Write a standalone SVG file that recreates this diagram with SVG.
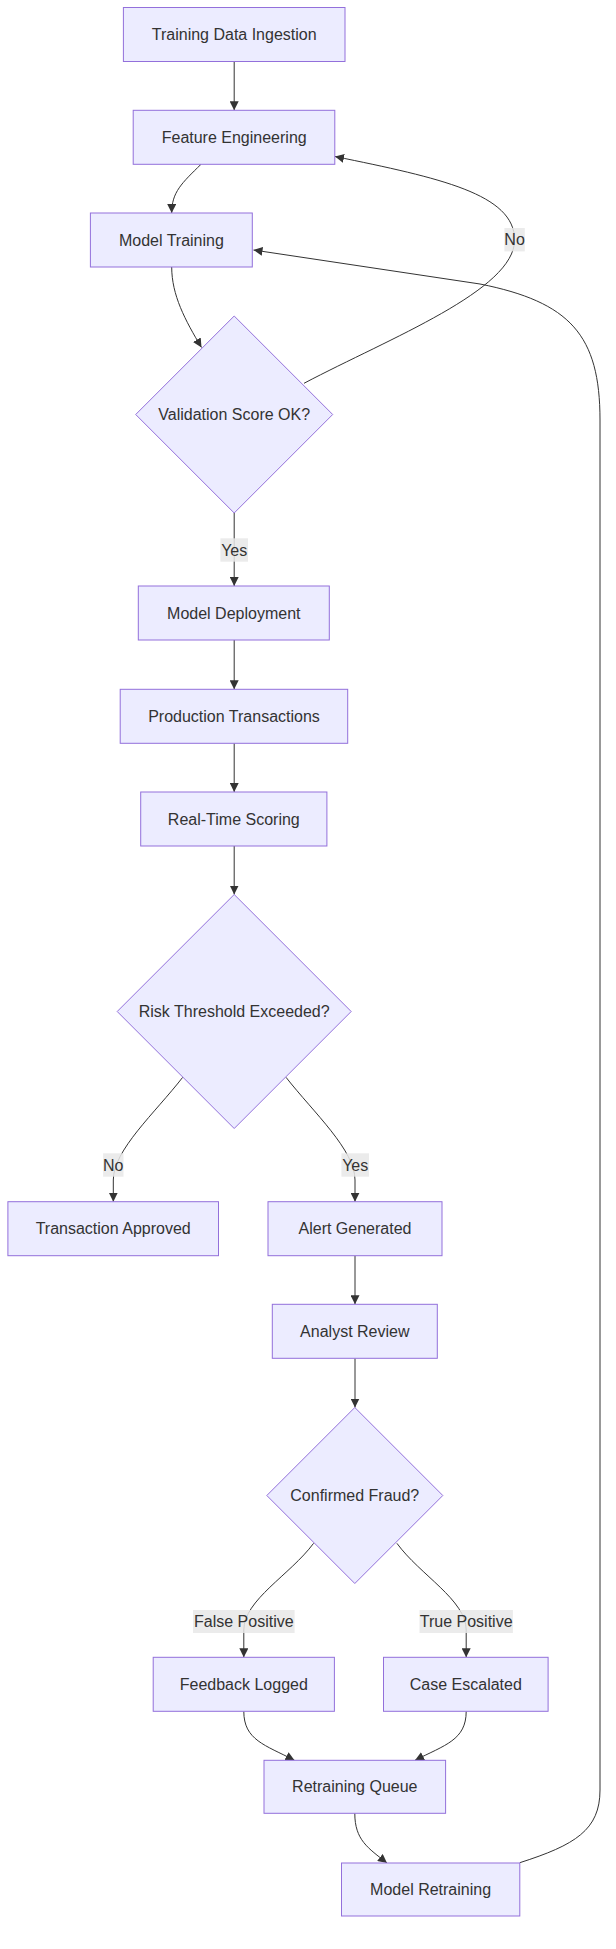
<svg xmlns="http://www.w3.org/2000/svg" width="616" height="1949" viewBox="0 0 616 1949">
  <style>
    .node rect, .node polygon { fill: #ECECFF; stroke: #9370DB; stroke-width: 1; }
    .node text { font-family: "Liberation Sans", Arial, sans-serif; font-size: 16px; fill: #333; text-anchor: middle; dominant-baseline: central; }
    .edge { fill: none; stroke: #333; stroke-width: 1; }
    .arrow { marker-end: url(#arrowhead); }
    .lbl rect { fill: #e8e8e8; opacity: 0.85; }
    .lbl text { font-family: "Liberation Sans", Arial, sans-serif; font-size: 16px; fill: #333; text-anchor: middle; dominant-baseline: central; }
  </style>
  <defs>
    <marker id="arrowhead" viewBox="0 0 10 10" refX="10" refY="5" markerUnits="userSpaceOnUse" markerWidth="9" markerHeight="9" orient="auto">
      <path d="M0,0 L10,5 L0,10 z" fill="#333"/>
    </marker>
  </defs>
  <rect width="616" height="1949" fill="#ffffff"/>

  <!-- connectors -->
  <g id="edges">
    <path class="edge arrow" d="M234.2,61.5 L234.2,110.3"/>
    <path class="edge arrow" d="M201,164.3 C182,183 171.7,192 171.7,213"/>
    <path class="edge arrow" d="M171.7,267 C171.7,295 185,320 201.5,347.5"/>
    <path class="edge arrow" d="M304,383.3 C390,338 514.6,290 514.6,240 C514.6,194 440,178 335,156.5"/>
    <path class="edge arrow" d="M234.2,513 L234.2,586"/>
    <path class="edge arrow" d="M234.2,640 L234.2,689.3"/>
    <path class="edge arrow" d="M234.2,743.3 L234.2,792"/>
    <path class="edge arrow" d="M234.2,846 L234.2,894.5"/>
    <path class="edge arrow" d="M182.7,1077.3 C155,1113 113.3,1150 113.3,1180 L113.3,1201.7"/>
    <path class="edge arrow" d="M286,1077.3 C314,1113 355,1150 355,1180 L355,1201.7"/>
    <path class="edge arrow" d="M355,1255.7 L355,1304.3"/>
    <path class="edge arrow" d="M355,1358.3 L355,1407.5"/>
    <path class="edge arrow" d="M313.6,1543.3 C290,1575 243.8,1600 243.8,1630 L243.8,1657.3"/>
    <path class="edge arrow" d="M396.9,1543.3 C420,1575 466.2,1600 466.2,1630 L466.2,1657.3"/>
    <path class="edge arrow" d="M243.8,1711.3 C243.8,1740 265,1745 294.5,1760.3"/>
    <path class="edge arrow" d="M466.2,1711.3 C466.2,1740 445,1745 415,1760.3"/>
    <path class="edge arrow" d="M354.8,1813.3 C354.8,1840 368,1848 387,1863"/>
    <path class="edge arrow" d="M519.8,1862.7 C575,1845 600,1830 600,1790 L600,420 C600,335 570,302 480,284 L253.5,250"/>
  </g>

  <!-- edge labels -->
  <g id="edge-labels">
    <g class="lbl"><rect x="504.4" y="228" width="20.4" height="23.4"/><text x="514.6" y="239.7">No</text></g>
    <g class="lbl"><rect x="220.4" y="538.3" width="27.6" height="23.4"/><text x="234.2" y="550">Yes</text></g>
    <g class="lbl"><rect x="103.1" y="1153.3" width="20.4" height="23.4"/><text x="113.3" y="1165">No</text></g>
    <g class="lbl"><rect x="341.4" y="1153.3" width="27.6" height="23.4"/><text x="355.2" y="1165">Yes</text></g>
    <g class="lbl"><rect x="193" y="1610" width="101.6" height="23"/><text x="243.8" y="1621.5">False Positive</text></g>
    <g class="lbl"><rect x="419.5" y="1610" width="93.4" height="23"/><text x="466.2" y="1621.5">True Positive</text></g>
  </g>

  <!-- nodes -->
  <g id="n-ingest" class="node"><rect x="123.4" y="7.5" width="221.6" height="54"/><text x="234.2" y="34.5">Training Data Ingestion</text></g>
  <g id="n-features" class="node"><rect x="133.2" y="110.3" width="201.6" height="54"/><text x="234.2" y="137.3">Feature Engineering</text></g>
  <g id="n-training" class="node"><rect x="90.4" y="213" width="161.9" height="54"/><text x="171.4" y="240">Model Training</text></g>
  <g id="n-validation" class="node"><polygon points="234.2,316 332.7,414.5 234.2,513 135.7,414.5"/><text x="234.2" y="414.5">Validation Score OK?</text></g>
  <g id="n-deploy" class="node"><rect x="138.3" y="586" width="191" height="54"/><text x="233.8" y="613">Model Deployment</text></g>
  <g id="n-production" class="node"><rect x="120.2" y="689.3" width="227.5" height="54"/><text x="234" y="716.3">Production Transactions</text></g>
  <g id="n-scoring" class="node"><rect x="140.7" y="792" width="186.2" height="54"/><text x="233.8" y="819">Real-Time Scoring</text></g>
  <g id="n-risk" class="node"><polygon points="234.2,894.5 351.2,1011.5 234.2,1128.5 117.2,1011.5"/><text x="234.2" y="1011.5">Risk Threshold Exceeded?</text></g>
  <g id="n-approved" class="node"><rect x="7.9" y="1201.7" width="210.6" height="54"/><text x="113.2" y="1228.7">Transaction Approved</text></g>
  <g id="n-alert" class="node"><rect x="268" y="1201.7" width="174" height="54"/><text x="355" y="1228.7">Alert Generated</text></g>
  <g id="n-review" class="node"><rect x="272.3" y="1304.3" width="165" height="54"/><text x="354.8" y="1331.3">Analyst Review</text></g>
  <g id="n-fraud" class="node"><polygon points="354.8,1407.5 442.8,1495.5 354.8,1583.5 266.8,1495.5"/><text x="354.8" y="1495.5">Confirmed Fraud?</text></g>
  <g id="n-feedback" class="node"><rect x="153.2" y="1657.3" width="181.2" height="54"/><text x="243.8" y="1684.3">Feedback Logged</text></g>
  <g id="n-escalated" class="node"><rect x="383.5" y="1657.3" width="164.6" height="54"/><text x="465.8" y="1684.3">Case Escalated</text></g>
  <g id="n-queue" class="node"><rect x="264" y="1760.3" width="181.6" height="53"/><text x="354.8" y="1786.8">Retraining Queue</text></g>
  <g id="n-retrain" class="node"><rect x="341.5" y="1863" width="178.3" height="53"/><text x="430.6" y="1889.5">Model Retraining</text></g>
</svg>
